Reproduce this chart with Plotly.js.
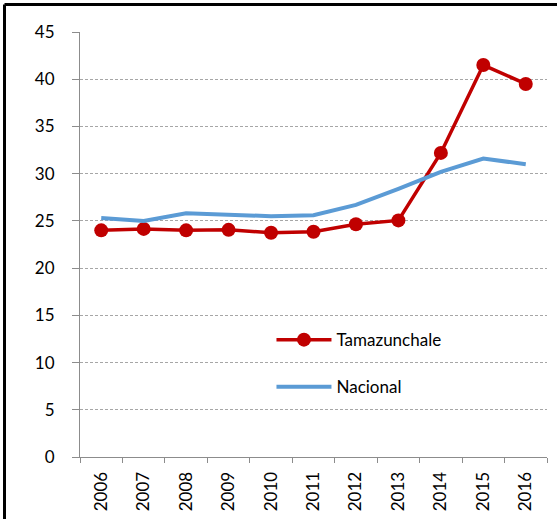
<!DOCTYPE html>
<html><head><meta charset="utf-8">
<script src="https://cdn.plot.ly/plotly-3.0.1.min.js"></script>
<style>
body{margin:0;padding:0;overflow:hidden;background:#fff;}
#chart{width:557px;height:519px;}
</style></head>
<body>
<div id="chart"></div>
<script>
const years = ['2006','2007','2008','2009','2010','2011','2012','2013','2014','2015','2016'];
const tamazunchale = [24.0, 24.15, 24.0, 24.05, 23.75, 23.85, 24.65, 25.05, 32.2, 41.5, 39.5];
const nacional = [25.3, 25.0, 25.8, 25.6, 25.5, 25.6, 26.7, 28.4, 30.2, 31.6, 31.0];
const yTicks = [0,5,10,15,20,25,30,35,40,45];

const font = {family:'Lato, "Open Sans", sans-serif', size:17, color:'#000'};

const traces = [
  {x:years, y:tamazunchale, name:'Tamazunchale', type:'scatter', mode:'lines+markers',
   line:{color:'#C00000', width:3.5}, marker:{color:'#C00000', size:14}, legend:'legend'},
  {x:years, y:nacional, name:'Nacional', type:'scatter', mode:'lines',
   line:{color:'#5B9BD5', width:4}, legend:'legend2'}
];

const pw = 467, ph = 425;
const fx = (-80 + 4.5) / pw;
const fy = (457 - 4.5) / ph;

const layout = {
  width:557, height:519,
  margin:{l:80, r:10, t:32, b:62},
  paper_bgcolor:'#fff', plot_bgcolor:'#fff',
  font:font,
  showlegend:true,
  xaxis:{type:'category', range:[-0.5, years.length - 0.5], tickangle:-90, showgrid:false, showline:true, linecolor:'#8c8c8c', linewidth:1,
    ticks:'outside', tickson:'boundaries', ticklen:5, tickcolor:'#8c8c8c', tickfont:font, ticklabelstandoff:7, fixedrange:true},
  yaxis:{range:[0,45], tickvals:yTicks, ticktext:yTicks.map(String), showgrid:true, gridcolor:'#a6a6a6', griddash:'3px,2px', gridwidth:1,
    showline:true, linecolor:'#8c8c8c', linewidth:1, ticks:'outside', ticklen:7, tickcolor:'#8c8c8c', tickfont:font, ticklabelstandoff:14, zeroline:false, fixedrange:true},
  legend:{x:0.41, y:0.275, xanchor:'left', yanchor:'middle', bgcolor:'rgba(0,0,0,0)', font:font, itemwidth:55},
  legend2:{x:0.41, y:0.164, xanchor:'left', yanchor:'middle', bgcolor:'rgba(0,0,0,0)', font:font, itemwidth:55},
  shapes:[
    {type:'line', xref:'paper', yref:'paper', x0:fx, x1:fx, y0:-0.3, y1:fy, line:{color:'#000', width:3}},
    {type:'line', xref:'paper', yref:'paper', x0:fx, x1:1.1, y0:fy, y1:fy, line:{color:'#000', width:3}}
  ]
};

Plotly.newPlot('chart', traces, layout, {displayModeBar:false, staticPlot:true});
</script>
</body></html>
